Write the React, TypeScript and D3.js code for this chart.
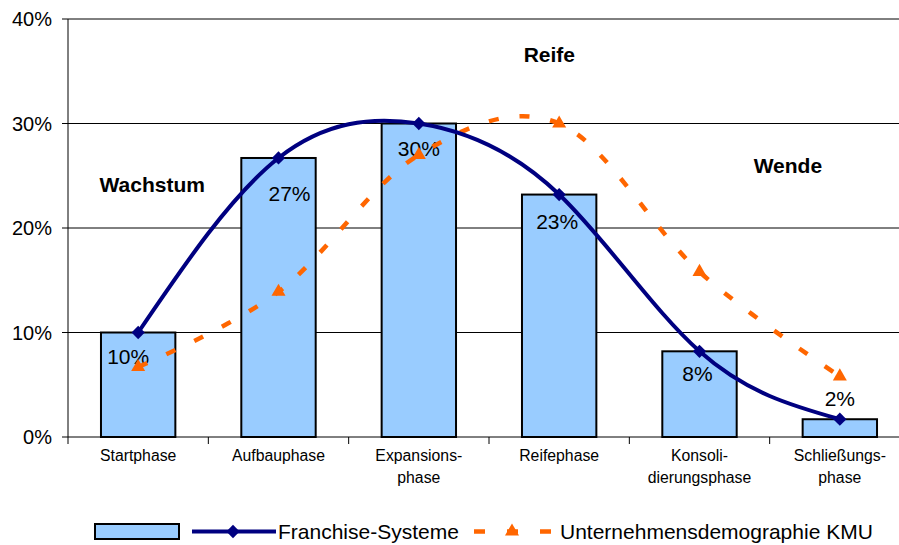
import React from "react";
import * as d3 from "d3";

const categories = ["Startphase", "Aufbauphase", "Expansions-\nphase", "Reifephase", "Konsoli-\ndierungsphase", "Schließungs-\nphase"];
const franchise = [0.10, 0.267, 0.30, 0.232, 0.082, 0.017];
const kmu = [0.067, 0.139, 0.27, 0.30, 0.158, 0.058];
const valueLabels = ["10%", "27%", "30%", "23%", "8%", "2%"];
const labelDx = [-10, 11, 0, -2, -2, 0];
const labelDy = [31, 43, 32, 34, 30, -13];
const yTicks = [0, 0.1, 0.2, 0.3, 0.4];
const phaseNames = ["Wachstum", "Reife", "Wende"];
const phaseIndex = [0.1, 2.93, 4.63];
const phaseValue = [0.2344, 0.3589, 0.2526];
const seriesNames = ["", "Franchise-Systeme", "Unternehmensdemographie KMU"];

const W = 899, H = 545;
const left = 68, right = 910, top = 19, bottom = 437;
const FONT = "'Liberation Sans', Arial, sans-serif";
const BAR_FILL = "#99CCFF";
const NAVY = "#000080";
const ORANGE = "#FF6600";

export default function App() {
  const x = d3.scaleBand<string>().domain(categories).range([left, right]).paddingInner(0.47).paddingOuter(0.235);
  const step = x.step();
  const cx = (i: number) => (x(categories[i]) as number) + x.bandwidth() / 2;
  const cxf = (f: number) => cx(0) + f * step;
  const y = d3.scaleLinear().domain([0, 0.4]).range([bottom, top]);
  const fmt = d3.format(".0%");

  const blueLine = d3.line<number>().x((_, i) => cx(i)).y((d) => y(d)).curve(d3.curveNatural);
  const orangeLine = d3.line<number>().x((_, i) => cx(i)).y((d) => y(d)).curve(d3.curveCardinal.tension(0));
  const diamond = d3.symbol().type(d3.symbolSquare).size(88)() as string;
  const tri = d3.symbol().type(d3.symbolTriangle).size(85)() as string;

  const boundaries = d3.range(categories.length).map((i) => left + i * step);

  return (
    <svg width={W} height={H} style={{ position: "absolute", left: 0, top: 0, background: "#fff" }} fontFamily={FONT}>
      {yTicks.filter((t) => t > 0).map((t) => (
        <line key={t} x1={left} x2={W} y1={y(t)} y2={y(t)} stroke="#000" strokeWidth={1} />
      ))}
      <line x1={left} x2={left} y1={top} y2={bottom} stroke="#000" strokeWidth={1} />
      {yTicks.map((t) => (
        <g key={"yt" + t}>
          <line x1={left - 6} x2={left} y1={y(t)} y2={y(t)} stroke="#000" />
          <text x={52} y={y(t) + 7} textAnchor="end" fontSize={20} fill="#000">{fmt(t)}</text>
        </g>
      ))}
      {franchise.map((v, i) => (
        <rect key={"b" + i} x={x(categories[i])} y={y(v)} width={x.bandwidth()} height={bottom - y(v)} fill={BAR_FILL} stroke="#000" strokeWidth={2} />
      ))}
      <line x1={left} x2={W} y1={bottom} y2={bottom} stroke="#000" strokeWidth={1} />
      {boundaries.map((bx, i) => (
        <line key={"xt" + i} x1={bx} x2={bx} y1={bottom} y2={bottom + 7} stroke="#000" />
      ))}
      {categories.map((c, i) => (
        <text key={"xl" + i} x={cx(i)} y={461} textAnchor="middle" fontSize={15.8} fill="#000">
          {c.split("\n").map((ln, j) => (
            <tspan key={j} x={cx(i)} dy={j === 0 ? 0 : 22}>{ln}</tspan>
          ))}
        </text>
      ))}
      {valueLabels.map((l, i) => (
        <text key={"vl" + i} x={cx(i) + labelDx[i]} y={y(franchise[i]) + labelDy[i]} textAnchor="middle" fontSize={21} fill="#000">{l}</text>
      ))}
      {phaseNames.map((p, i) => (
        <text key={"ph" + i} x={cxf(phaseIndex[i])} y={y(phaseValue[i])} textAnchor="middle" fontSize={21} fontWeight="bold" fill="#000">{p}</text>
      ))}
      <path d={orangeLine(kmu) as string} fill="none" stroke={ORANGE} strokeWidth={4.5} strokeDasharray="10,21" />
      {kmu.map((v, i) => (
        <path key={"tr" + i} d={tri} transform={`translate(${cx(i)},${y(v)})`} fill={ORANGE} />
      ))}
      <path d={blueLine(franchise) as string} fill="none" stroke={NAVY} strokeWidth={4} strokeLinejoin="round" />
      {franchise.map((v, i) => (
        <path key={"dm" + i} d={diamond} transform={`translate(${cx(i)},${y(v)}) rotate(45)`} fill={NAVY} />
      ))}
      <g>
        <rect x={95} y={524} width={84} height={15} fill={BAR_FILL} stroke="#000" strokeWidth={2} />
        <text x={180} y={538} fontSize={21}>{seriesNames[0]}</text>
        <line x1={192} x2={276} y1={531.5} y2={531.5} stroke={NAVY} strokeWidth={4} />
        <path d={diamond} transform="translate(233,531.5) rotate(45)" fill={NAVY} />
        <text x={278} y={539} fontSize={21} fill="#000">{seriesNames[1]}</text>
        <line x1={474} x2={551} y1={531.5} y2={531.5} stroke={ORANGE} strokeWidth={4.5} strokeDasharray="11,22" />
        <path d={tri} transform="translate(512,531.5)" fill={ORANGE} />
        <text x={560} y={539} fontSize={21} fill="#000">{seriesNames[2]}</text>
      </g>
    </svg>
  );
}
